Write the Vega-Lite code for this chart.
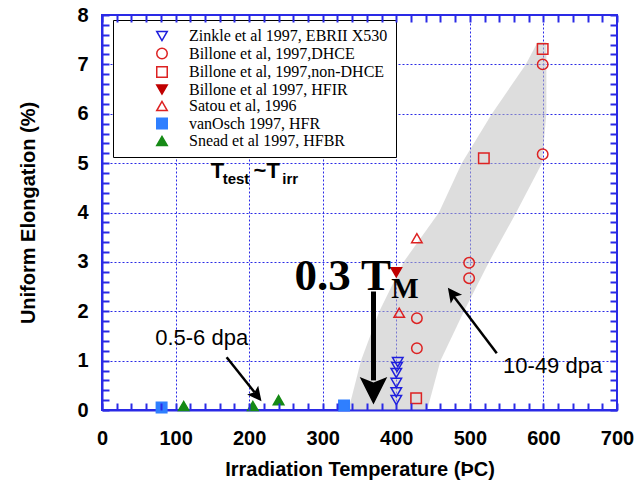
{
  "$schema": "https://vega.github.io/schema/vega-lite/v6.json",
  "width": 515,
  "height": 395,
  "autosize": "none",
  "padding": {"left": 102, "top": 15, "right": 22, "bottom": 75},
  "background": "white",
  "config": {"view": {"stroke": "#2a2ae6", "strokeWidth": 2}, "font": "Liberation Sans"},
  "datasets": {
    "band": [
      {"elong": 0, "tLow": 335, "tHigh": 442},
      {"elong": 1, "tLow": 352, "tHigh": 460},
      {"elong": 2, "tLow": 377, "tHigh": 492},
      {"elong": 3, "tLow": 410, "tHigh": 526},
      {"elong": 4, "tLow": 458, "tHigh": 563},
      {"elong": 5, "tLow": 489, "tHigh": 598},
      {"elong": 6, "tLow": 530, "tHigh": 604},
      {"elong": 7, "tLow": 576, "tHigh": 604},
      {"elong": 7.45, "tLow": 592, "tHigh": 604}
    ],
    "points": [
      {"source": "Zinkle et al 1997, EBRII X530", "temp": 402, "elong": 0.97},
      {"source": "Zinkle et al 1997, EBRII X530", "temp": 401, "elong": 0.87},
      {"source": "Zinkle et al 1997, EBRII X530", "temp": 400, "elong": 0.75},
      {"source": "Zinkle et al 1997, EBRII X530", "temp": 400, "elong": 0.55},
      {"source": "Zinkle et al 1997, EBRII X530", "temp": 400, "elong": 0.36},
      {"source": "Zinkle et al 1997, EBRII X530", "temp": 400, "elong": 0.2},
      {"source": "Billone et al, 1997,DHCE", "temp": 428, "elong": 1.86},
      {"source": "Billone et al, 1997,DHCE", "temp": 428, "elong": 1.25},
      {"source": "Billone et al, 1997,DHCE", "temp": 499, "elong": 2.98},
      {"source": "Billone et al, 1997,DHCE", "temp": 499, "elong": 2.67},
      {"source": "Billone et al, 1997,DHCE", "temp": 599, "elong": 7.0},
      {"source": "Billone et al, 1997,DHCE", "temp": 599, "elong": 5.18},
      {"source": "Billone et al, 1997,non-DHCE", "temp": 599, "elong": 7.31},
      {"source": "Billone et al, 1997,non-DHCE", "temp": 519, "elong": 5.1},
      {"source": "Billone et al, 1997,non-DHCE", "temp": 427, "elong": 0.24},
      {"source": "Billone et al 1997, HFIR", "temp": 400, "elong": 2.79},
      {"source": "Satou et al, 1996", "temp": 428, "elong": 3.48},
      {"source": "Satou et al, 1996", "temp": 404, "elong": 1.97},
      {"source": "vanOsch 1997, HFR", "temp": 81, "elong": 0.05},
      {"source": "vanOsch 1997, HFR", "temp": 329, "elong": 0.09},
      {"source": "Snead et al 1997, HFBR", "temp": 111, "elong": 0.08},
      {"source": "Snead et al 1997, HFBR", "temp": 205, "elong": 0.08},
      {"source": "Snead et al 1997, HFBR", "temp": 240, "elong": 0.2}
    ],
    "notes": [
      {"kind": "big", "label": "0.3 T", "temp": 393, "elong": 2.43},
      {"kind": "bigsub", "label": "M", "temp": 393, "elong": 2.27},
      {"kind": "t", "label": "T", "temp": 147.7, "elong": 4.7},
      {"kind": "tsub", "label": "test", "temp": 164, "elong": 4.57},
      {"kind": "t", "label": "~T", "temp": 206, "elong": 4.7},
      {"kind": "tsub", "label": "irr", "temp": 245, "elong": 4.57},
      {"kind": "dpa", "label": "0.5-6 dpa", "temp": 135.5, "elong": 1.46},
      {"kind": "dpa", "label": "10-49 dpa", "temp": 612.5, "elong": 0.89}
    ],
    "arrows": [
      {"kind": "big", "temp": 369, "elong": 2.4, "temp2": 369, "elong2": 0.6},
      {"kind": "thin", "temp": 169.4, "elong": 1.07, "temp2": 207.3, "elong2": 0.36},
      {"kind": "thin", "temp": 536.6, "elong": 1.15, "temp2": 475.6, "elong2": 2.35}
    ],
    "heads": [
      {"kind": "big", "temp": 369, "elong": 0.39},
      {"kind": "a1", "temp": 210.8, "elong": 0.29},
      {"kind": "a2", "temp": 475.9, "elong": 2.36}
    ]
  },
  "layer": [
    {
      "data": {"name": "band"},
      "mark": {"type": "area", "orient": "horizontal", "fill": "#bdbdbd", "opacity": 0.52},
      "encoding": {
        "y": {
          "field": "elong", "type": "quantitative",
          "scale": {"domain": [0, 8], "nice": false, "zero": false},
          "axis": {
            "orient": "left",
            "values": [0,1,2,3,4,5,6,7,8],
            "format": "d",
            "labelOverlap": false, "labelBound": false, "labelFlush": false,
            "ticks": false,
            "domainColor": "#2a2ae6", "domainWidth": 2,
            "labelFont": "Liberation Sans", "labelFontWeight": "bold", "labelFontSize": 20, "labelColor": "black", "labelPadding": 14,
            "grid": true, "gridColor": "#2a2ae6", "gridDash": [2, 2], "gridWidth": 1,
            "title": "Uniform Elongation (%)",
            "titleFont": "Liberation Sans", "titleFontWeight": "bold", "titleFontSize": 20, "titleColor": "black",
            "titleX": -74, "titleY": 197.5, "titleBaseline": "middle", "titleAngle": -90, "titleAlign": "center"
          }
        },
        "x": {
          "field": "tLow", "type": "quantitative",
          "scale": {"domain": [0, 700], "nice": false, "zero": false},
          "axis": {
            "orient": "bottom",
            "values": [0,100,200,300,400,500,600,700],
            "format": "d",
            "labelOverlap": false, "labelBound": false, "labelFlush": false,
            "ticks": false,
            "domainColor": "#2a2ae6", "domainWidth": 2,
            "labelFont": "Liberation Sans", "labelFontWeight": "bold", "labelFontSize": 20, "labelColor": "black", "labelPadding": 18,
            "grid": true, "gridColor": "#2a2ae6", "gridDash": [2, 2], "gridWidth": 1,
            "title": "Irradiation Temperature (ÞC)",
            "titleFont": "Liberation Sans", "titleFontWeight": "bold", "titleFontSize": 20, "titleColor": "black",
            "titleY": 65, "titleBaseline": "alphabetic"
          }
        },
        "x2": {"field": "tHigh"}
      }
    },
    {
      "data": {"name": "points"},
      "mark": {"type": "point", "size": 110, "strokeWidth": 1.5, "opacity": 1},
      "encoding": {
        "x": {
          "field": "temp", "type": "quantitative",
          "scale": {"domain": [0, 700], "nice": false, "zero": false},
          "axis": {
            "orient": "top", "offset": -395, "title": null, "labels": false, "grid": false, "domain": false,
            "tickCount": 35,
            "ticks": true, "tickOpacity": 1, "zindex": 1,
            "tickSize": 7, "tickColor": "#2a2ae6", "tickWidth": 2
          }
        },
        "y": {
          "field": "elong", "type": "quantitative",
          "scale": {"domain": [0, 8], "nice": false, "zero": false},
          "axis": {
            "orient": "right", "offset": -515, "title": null, "labels": false, "grid": false, "domain": false,
            "tickCount": 40,
            "ticks": true, "tickOpacity": 1, "zindex": 1,
            "tickSize": 7, "tickColor": "#2a2ae6", "tickWidth": 2
          }
        },
        "shape": {
          "field": "source", "type": "nominal",
          "scale": {
            "domain": ["Zinkle et al 1997, EBRII X530", "Billone et al, 1997,DHCE", "Billone et al, 1997,non-DHCE", "Billone et al 1997, HFIR", "Satou et al, 1996", "vanOsch 1997, HFR", "Snead et al 1997, HFBR"],
            "range": ["triangle-down", "circle", "square", "triangle-down", "triangle-up", "square", "triangle-up"]
          },
          "legend": {
            "title": null, "orient": "none", "legendX": 11, "legendY": 5, "padding": 8,
            "symbolOffset": 33, "labelOffset": 19, "rowPadding": 0.5,
            "labelFont": "Liberation Serif", "labelFontSize": 16, "labelLimit": 0,
            "symbolSize": 110, "symbolStrokeWidth": 1.5,
            "strokeColor": "black", "fillColor": "white",
            "encode": {
              "legend": {"update": {"strokeWidth": {"value": 2.5}}},
              "labels": {"update": {"fill": {"scale": "stroke", "field": "value"}}}
            }
          }
        },
        "stroke": {
          "field": "source", "type": "nominal",
          "scale": {
            "domain": ["Zinkle et al 1997, EBRII X530", "Billone et al, 1997,DHCE", "Billone et al, 1997,non-DHCE", "Billone et al 1997, HFIR", "Satou et al, 1996", "vanOsch 1997, HFR", "Snead et al 1997, HFBR"],
            "range": ["#1f1fdd", "#dd2222", "#dd2222", "#c00000", "#dd2222", "#2f7fff", "#168a16"]
          },
          "legend": {
            "title": null, "orient": "none", "legendX": 11, "legendY": 5, "padding": 8,
            "symbolOffset": 33, "labelOffset": 19, "rowPadding": 0.5,
            "labelFont": "Liberation Serif", "labelFontSize": 16, "labelLimit": 0,
            "symbolSize": 110, "symbolStrokeWidth": 1.5,
            "strokeColor": "black", "fillColor": "white",
            "encode": {
              "legend": {"update": {"strokeWidth": {"value": 2.5}}},
              "labels": {"update": {"fill": {"scale": "stroke", "field": "value"}}}
            }
          }
        },
        "fill": {
          "field": "source", "type": "nominal",
          "scale": {
            "domain": ["Zinkle et al 1997, EBRII X530", "Billone et al, 1997,DHCE", "Billone et al, 1997,non-DHCE", "Billone et al 1997, HFIR", "Satou et al, 1996", "vanOsch 1997, HFR", "Snead et al 1997, HFBR"],
            "range": ["transparent", "transparent", "transparent", "#c00000", "transparent", "#2f7fff", "#168a16"]
          },
          "legend": {
            "title": null, "orient": "none", "legendX": 11, "legendY": 5, "padding": 8,
            "symbolOffset": 33, "labelOffset": 19, "rowPadding": 0.5,
            "labelFont": "Liberation Serif", "labelFontSize": 16, "labelLimit": 0,
            "symbolSize": 110, "symbolStrokeWidth": 1.5,
            "strokeColor": "black", "fillColor": "white",
            "encode": {
              "legend": {"update": {"strokeWidth": {"value": 2.5}}},
              "labels": {"update": {"fill": {"scale": "stroke", "field": "value"}}}
            }
          }
        }
      }
    },
    {
      "data": {"name": "arrows"},
      "transform": [{"filter": "datum.kind === 'big'"}],
      "mark": {"type": "rule", "color": "black", "strokeWidth": 5},
      "encoding": {
        "x": {
          "field": "temp", "type": "quantitative",
          "scale": {"domain": [0, 700], "nice": false, "zero": false},
          "axis": {
            "orient": "bottom", "offset": -395, "title": null, "labels": false, "grid": false, "domain": false,
            "tickCount": 35,
            "ticks": true, "tickOpacity": 1, "zindex": 1,
            "tickSize": 7, "tickColor": "#2a2ae6", "tickWidth": 2
          }
        },
        "y": {
          "field": "elong", "type": "quantitative",
          "scale": {"domain": [0, 8], "nice": false, "zero": false},
          "axis": {
            "orient": "left", "offset": -515, "title": null, "labels": false, "grid": false, "domain": false,
            "tickCount": 40,
            "ticks": true, "tickOpacity": 1, "zindex": 1,
            "tickSize": 7, "tickColor": "#2a2ae6", "tickWidth": 2
          }
        },
        "x2": {"field": "temp2"},
        "y2": {"field": "elong2"}
      }
    },
    {
      "data": {"name": "arrows"},
      "transform": [{"filter": "datum.kind === 'thin'"}],
      "mark": {"type": "rule", "color": "black", "strokeWidth": 2.5},
      "encoding": {
        "x": {"field": "temp", "type": "quantitative", "axis": null},
        "y": {"field": "elong", "type": "quantitative", "axis": null},
        "x2": {"field": "temp2"},
        "y2": {"field": "elong2"}
      }
    },
    {
      "data": {"name": "heads"},
      "transform": [{"filter": "datum.kind === 'big'"}],
      "mark": {"type": "point", "shape": "M0,-1L1,1L0,0.6L-1,1Z", "size": 760, "angle": 180, "filled": true, "color": "black", "opacity": 1},
      "encoding": {
        "x": {"field": "temp", "type": "quantitative", "axis": null},
        "y": {"field": "elong", "type": "quantitative", "axis": null}
      }
    },
    {
      "data": {"name": "heads"},
      "transform": [{"filter": "datum.kind === 'a1'"}],
      "mark": {"type": "point", "shape": "M0,-1L1,1L0,0.6L-1,1Z", "size": 200, "angle": 141.5, "filled": true, "color": "black", "opacity": 1},
      "encoding": {
        "x": {"field": "temp", "type": "quantitative", "axis": null},
        "y": {"field": "elong", "type": "quantitative", "axis": null}
      }
    },
    {
      "data": {"name": "heads"},
      "transform": [{"filter": "datum.kind === 'a2'"}],
      "mark": {"type": "point", "shape": "M0,-1L1,1L0,0.6L-1,1Z", "size": 200, "angle": 323, "filled": true, "color": "black", "opacity": 1},
      "encoding": {
        "x": {"field": "temp", "type": "quantitative", "axis": null},
        "y": {"field": "elong", "type": "quantitative", "axis": null}
      }
    },
    {
      "data": {"name": "notes"},
      "transform": [{"filter": "datum.kind === 'big'"}],
      "mark": {"type": "text", "font": "Liberation Serif", "fontWeight": "bold", "fontSize": 45, "align": "right", "baseline": "alphabetic", "color": "black"},
      "encoding": {
        "x": {"field": "temp", "type": "quantitative", "axis": null},
        "y": {"field": "elong", "type": "quantitative", "axis": null},
        "text": {"field": "label"}
      }
    },
    {
      "data": {"name": "notes"},
      "transform": [{"filter": "datum.kind === 'bigsub'"}],
      "mark": {"type": "text", "font": "Liberation Serif", "fontWeight": "bold", "fontSize": 29, "align": "left", "baseline": "alphabetic", "color": "black"},
      "encoding": {
        "x": {"field": "temp", "type": "quantitative", "axis": null},
        "y": {"field": "elong", "type": "quantitative", "axis": null},
        "text": {"field": "label"}
      }
    },
    {
      "data": {"name": "notes"},
      "transform": [{"filter": "datum.kind === 't'"}],
      "mark": {"type": "text", "font": "Liberation Sans", "fontWeight": "bold", "fontSize": 22, "align": "left", "baseline": "alphabetic", "color": "black"},
      "encoding": {
        "x": {"field": "temp", "type": "quantitative", "axis": null},
        "y": {"field": "elong", "type": "quantitative", "axis": null},
        "text": {"field": "label"}
      }
    },
    {
      "data": {"name": "notes"},
      "transform": [{"filter": "datum.kind === 'tsub'"}],
      "mark": {"type": "text", "font": "Liberation Sans", "fontWeight": "bold", "fontSize": 15, "align": "left", "baseline": "alphabetic", "color": "black"},
      "encoding": {
        "x": {"field": "temp", "type": "quantitative", "axis": null},
        "y": {"field": "elong", "type": "quantitative", "axis": null},
        "text": {"field": "label"}
      }
    },
    {
      "data": {"name": "notes"},
      "transform": [{"filter": "datum.kind === 'dpa'"}],
      "mark": {"type": "text", "font": "Liberation Sans", "fontSize": 22, "align": "center", "baseline": "middle", "color": "black"},
      "encoding": {
        "x": {"field": "temp", "type": "quantitative", "axis": null},
        "y": {"field": "elong", "type": "quantitative", "axis": null},
        "text": {"field": "label"}
      }
    }
  ],
  "resolve": {"axis": {"x": "independent", "y": "independent"}}
}
